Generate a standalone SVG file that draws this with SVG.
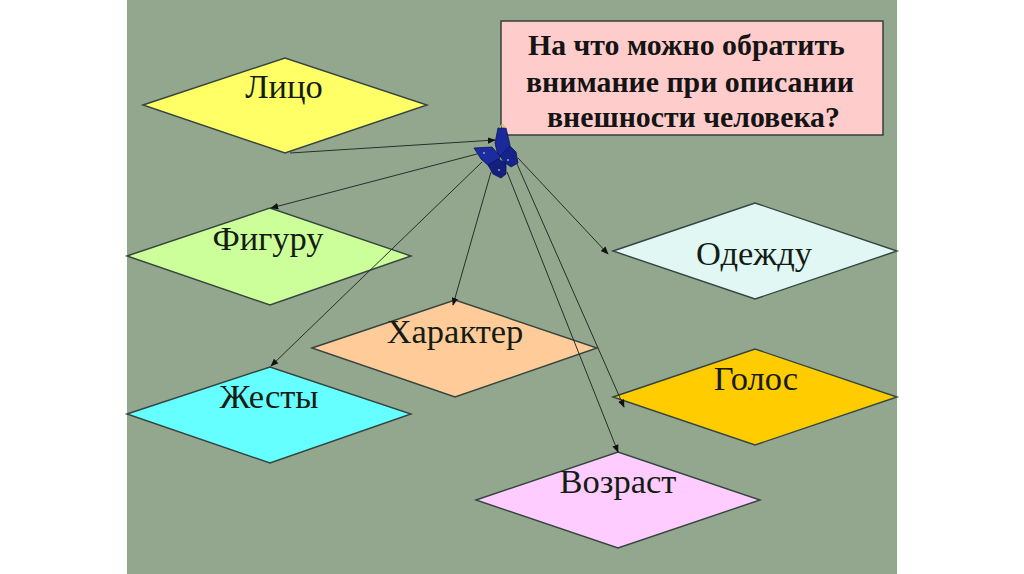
<svg xmlns="http://www.w3.org/2000/svg" width="1024" height="574" viewBox="0 0 1024 574">
<defs>
<marker id="ah" viewBox="0 0 10 10" refX="9" refY="5" markerWidth="8" markerHeight="8" markerUnits="userSpaceOnUse" orient="auto"><path d="M0 1L10 5L0 9Z" fill="#111"/></marker>
</defs>
<style>
.d{stroke:#34443f;stroke-width:1.4}
.t{font-family:"Liberation Serif",serif;font-size:34.5px;fill:#141c14;text-anchor:middle}
.h{font-family:"Liberation Serif",serif;font-size:29.8px;font-weight:bold;fill:#141414}
.c{fill:none;stroke:#26302a;stroke-width:1;marker-end:url(#ah)}
.w{stroke:#0c1560;stroke-width:.8}
</style>
<rect width="1024" height="574" fill="#fff"/>
<rect x="127" y="0" width="770" height="574" fill="#93a68e"/>
<g id="node-question"><rect x="501" y="21" width="382" height="114" fill="#ffcccc" stroke="#34403a" stroke-width="1.5"/>
<text class="h" x="528" y="55">На что можно обратить</text>
<text class="h" x="526" y="92">внимание при описании</text>
<text class="h" x="547" y="127">внешности человека?</text></g>
<g id="node-face"><polygon class="d" points="143,105 285,58 427,105 285,153" fill="#ffff66"/><text class="t" x="284" y="98">Лицо</text></g>
<g id="node-figure"><polygon class="d" points="127,256 270,208 411,256 270,305" fill="#ccff99"/><text class="t" x="268" y="250">Фигуру</text></g>
<g id="node-character"><polygon class="d" points="312,348 455,300 597,348 455,397" fill="#ffcc99"/><text class="t" x="455" y="343">Характер</text></g>
<g id="node-gestures"><polygon class="d" points="127,414 270,367 411,414 270,463" fill="#66ffff"/><text class="t" x="269" y="408">Жесты</text></g>
<g id="node-clothes"><polygon class="d" points="613,251 755,203 897,251 755,299" fill="#e0f7f4"/><text class="t" x="754" y="265">Одежду</text></g>
<g id="node-voice"><polygon class="d" points="613,397 755,349 897,397 755,445" fill="#ffcc00"/><text class="t" x="756" y="390">Голос</text></g>
<g id="node-age"><polygon class="d" points="476,500 618,452 760,500 618,548" fill="#ffccff"/><text class="t" x="618" y="493">Возраст</text></g>
<g id="connectors">
<path class="c" d="M290 153L495 140"/>
<path class="c" d="M477 154L271 208"/>
<path class="c" d="M482 162L271 366"/>
<path class="c" d="M491 172L453 305"/>
<path class="c" d="M518 158L608 254"/>
<path class="c" d="M517 164L624 407"/>
<path class="c" d="M507 172L618 452"/>
</g>
<g id="butterfly">
<path class="w" d="M498 128L506 128L510 145L506 156L498 156L495 143Z" fill="#1a2a9a"/>
<path class="w" d="M474 148L492 147L500 156L498 166L490 167L481 159Z" fill="#1c2c9e"/>
<path class="w" d="M500 156L510 146L516 152L518 163L511 167L504 162Z" fill="#16238a"/>
<path class="w" d="M488 165L498 159L506 163L506 174L501 178L493 174Z" fill="#15207e"/>
<circle cx="508" cy="160" r="1" fill="#8fa0e0"/><circle cx="499" cy="170" r="1" fill="#8fa0e0"/><circle cx="484" cy="153" r="1" fill="#8fa0e0"/>
<path d="M500 128Q502 121 505 128" fill="none" stroke="#c8c060" stroke-width="1.2"/>
</g>
</svg>
